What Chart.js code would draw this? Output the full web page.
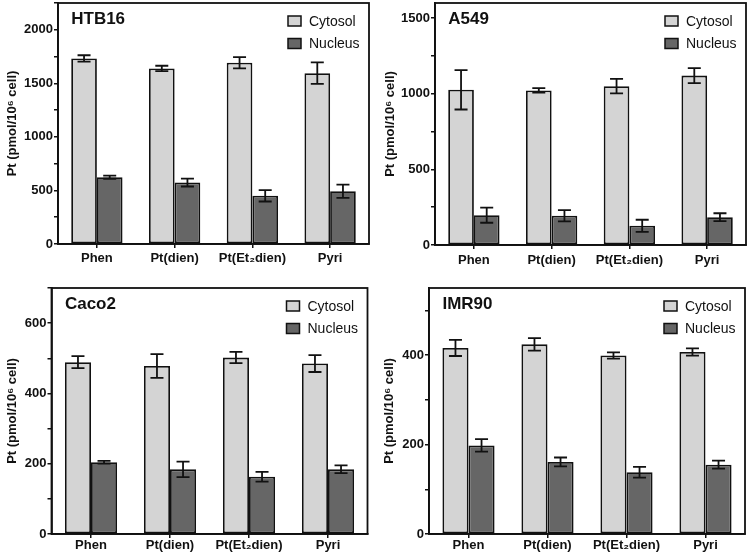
<!DOCTYPE html>
<html>
<head>
<meta charset="utf-8">
<script src="https://cdn.jsdelivr.net/npm/chart.js@4/dist/chart.umd.min.js"></script>
<style>
  html, body { margin: 0; padding: 0; background: #fff; }
  #wrap { position: relative; width: 750px; height: 557px; overflow: hidden; }
  .panel { position: absolute; }
</style>
</head>
<body>
<div id="wrap">
  <div class="panel" style="left:0;top:0;width:375px;height:278px"><canvas id="htb16"></canvas></div>
  <div class="panel" style="left:375px;top:0;width:375px;height:278px"><canvas id="a549"></canvas></div>
  <div class="panel" style="left:0;top:280px;width:375px;height:277px"><canvas id="caco2"></canvas></div>
  <div class="panel" style="left:375px;top:280px;width:375px;height:277px"><canvas id="imr90"></canvas></div>
</div>
<script>
var categories = ['Phen', 'Pt(dien)', 'Pt(Et₂dien)', 'Pyri'];
var seriesNames = ['Cytosol', 'Nucleus'];

// HTB16
var htb16Cytosol = [1732, 1639, 1692, 1595];
var htb16CytosolErr = [30, 25, 53, 100];
var htb16Nucleus = [624, 574, 450, 493];
var htb16NucleusErr = [15, 37, 53, 62];

// A549
var a549Cytosol = [1026, 1022, 1050, 1120];
var a549CytosolErr = [130, 15, 48, 50];
var a549Nucleus = [197, 193, 127, 184];
var a549NucleusErr = [50, 37, 40, 26];

// Caco2
var caco2Cytosol = [489, 478, 502, 485];
var caco2CytosolErr = [17, 34, 16, 24];
var caco2Nucleus = [204, 184, 163, 184];
var caco2NucleusErr = [4, 22, 14, 11];

// IMR90
var imr90Cytosol = [416, 424, 399, 407];
var imr90CytosolErr = [18, 14, 7, 8];
var imr90Nucleus = [198, 161, 138, 155];
var imr90NucleusErr = [14, 10, 12, 9];

var FONT = "'Liberation Sans', Arial, Helvetica, sans-serif";
var INK = '#111111';
var cytosolColor = '#d4d4d4';
var nucleusColor = '#666666';

// error bars drawn from the y scale
var errorBars = {
  id: 'errorBars',
  afterDatasetsDraw: function (chart) {
    var ctx = chart.ctx;
    var yScale = chart.scales.y;
    ctx.save();
    ctx.strokeStyle = INK;
    ctx.lineWidth = 1.8;
    chart.data.datasets.forEach(function (ds, di) {
      var meta = chart.getDatasetMeta(di);
      meta.data.forEach(function (bar, i) {
        var hi = yScale.getPixelForValue(ds.data[i] + ds.errors[i]);
        var lo = yScale.getPixelForValue(ds.data[i] - ds.errors[i]);
        var cap = 6.5;
        ctx.beginPath();
        ctx.moveTo(bar.x, hi); ctx.lineTo(bar.x, lo);
        ctx.moveTo(bar.x - cap, hi); ctx.lineTo(bar.x + cap, hi);
        ctx.moveTo(bar.x - cap, lo); ctx.lineTo(bar.x + cap, lo);
        ctx.stroke();
      });
    });
    ctx.restore();
  }
};

// frame, panel name and legend inside the plot box
var panelDecor = {
  id: 'panelDecor',
  afterDraw: function (chart) {
    var ctx = chart.ctx;
    var a = chart.chartArea;
    ctx.save();
    ctx.strokeStyle = INK;
    ctx.lineWidth = 1.8;
    ctx.strokeRect(a.left, a.top, a.right - a.left, a.bottom - a.top);

    // panel name
    var first = chart.getDatasetMeta(0).data[0];
    ctx.fillStyle = INK;
    ctx.font = 'bold 17px ' + FONT;
    ctx.textBaseline = 'alphabetic';
    ctx.textAlign = 'left';
    ctx.fillText(chart.options.panelName, first.x - first.width / 2, a.top + 21);

    // legend
    ctx.font = '14px ' + FONT;
    ctx.textBaseline = 'middle';
    chart.data.datasets.forEach(function (ds, di) {
      var cy = a.top + 18 + di * 22.5;
      ctx.fillStyle = ds.backgroundColor;
      ctx.fillRect(a.right - 81, cy - 5, 13, 10);
      ctx.lineWidth = 1.5;
      ctx.strokeRect(a.right - 81, cy - 5, 13, 10);
      ctx.fillStyle = INK;
      ctx.fillText(ds.label, a.right - 60, cy + 1);
    });
    ctx.restore();
  }
};

function makePanel(id, name, cyto, cytoErr, nuc, nucErr, yMax, step, labelStep, lay) {
  return new Chart(document.getElementById(id).getContext('2d'), {
    type: 'bar',
    data: {
      labels: categories,
      datasets: [
        {
          label: seriesNames[0],
          data: cyto,
          errors: cytoErr,
          backgroundColor: cytosolColor,
          borderColor: INK,
          borderWidth: 1.8,
          borderSkipped: false
        },
        {
          label: seriesNames[1],
          data: nuc,
          errors: nucErr,
          backgroundColor: nucleusColor,
          borderColor: INK,
          borderWidth: 1.8,
          borderSkipped: false
        }
      ]
    },
    options: {
      panelName: name,
      responsive: true,
      maintainAspectRatio: false,
      animation: false,
      layout: {
        padding: { top: lay.top, right: lay.right, left: 0, bottom: 0 }
      },
      datasets: {
        bar: { categoryPercentage: 0.66, barPercentage: 1 }
      },
      scales: {
        x: {
          offset: true,
          grid: { offset: false, drawOnChartArea: false, drawTicks: true, tickLength: 4, color: INK, lineWidth: 1.5 },
          border: { display: true, color: INK, width: 1.8 },
          ticks: {
            color: INK,
            padding: lay.xPad,
            maxRotation: 0,
            autoSkip: false,
            font: { family: FONT, size: 13, weight: 'bold' }
          },
          afterFit: function (s) {
            s.height = lay.xHeight;
            s.paddingLeft = 0;
            s.paddingRight = 0;
          }
        },
        y: {
          min: 0,
          max: yMax,
          grid: { drawOnChartArea: false, drawTicks: true, tickLength: 4, color: INK, lineWidth: 1.5 },
          border: { display: true, color: INK, width: 1.8 },
          ticks: {
            stepSize: step,
            color: INK,
            padding: 1,
            font: { family: FONT, size: 13, weight: 'bold' },
            callback: function (v) { return v % labelStep === 0 ? v : ''; }
          },
          title: {
            display: true,
            text: 'Pt (pmol/10⁶ cell)',
            color: INK,
            font: { family: FONT, size: 13, weight: 'bold' },
            padding: { top: lay.titlePad, bottom: 0 }
          },
          afterBuildTicks: function (s) {
            s.ticks = s.ticks.filter(function (t) { return t.value % step === 0; });
          },
          afterFit: function (s) {
            s.width = lay.yWidth;
            s.paddingTop = 0;
            s.paddingBottom = 0;
          }
        }
      },
      plugins: {
        legend: { display: false },
        tooltip: { enabled: false }
      }
    },
    plugins: [errorBars, panelDecor]
  });
}

makePanel('htb16', 'HTB16', htb16Cytosol, htb16CytosolErr, htb16Nucleus, htb16NucleusErr,
  2250, 250, 500, { top: 3, right: 6, yWidth: 58, xHeight: 34, xPad: 3, titlePad: 5 });
makePanel('a549', 'A549', a549Cytosol, a549CytosolErr, a549Nucleus, a549NucleusErr,
  1600, 250, 500, { top: 3, right: 4, yWidth: 60, xHeight: 33, xPad: 4, titlePad: 8 });
makePanel('caco2', 'Caco2', caco2Cytosol, caco2CytosolErr, caco2Nucleus, caco2NucleusErr,
  700, 100, 200, { top: 8, right: 7.5, yWidth: 51.5, xHeight: 23, xPad: 0, titlePad: 5 });
makePanel('imr90', 'IMR90', imr90Cytosol, imr90CytosolErr, imr90Nucleus, imr90NucleusErr,
  550, 100, 200, { top: 8, right: 5, yWidth: 54, xHeight: 23, xPad: 0, titlePad: 7 });
</script>
</body>
</html>
